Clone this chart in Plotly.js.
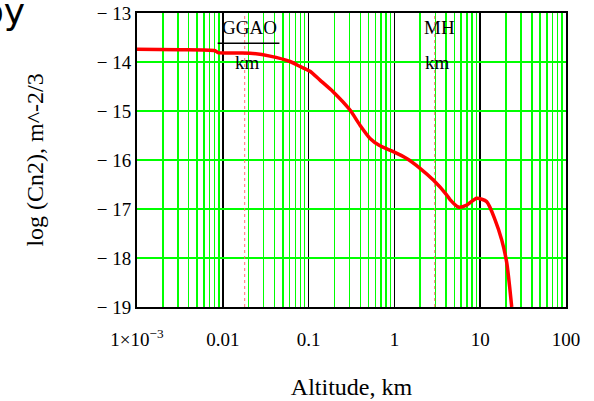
<!DOCTYPE html>
<html>
<head>
<meta charset="utf-8">
<script src="https://cdn.plot.ly/plotly-3.0.1.min.js"></script>
<style>
  html, body { margin: 0; padding: 0; background: #fff; }
  #chart { width: 594px; height: 401px; }
</style>
</head>
<body>
<div id="chart"></div>
<script>
// Refractive-index structure parameter profile versus altitude
const altitudeKm = [0.001, 0.00317, 0.00811, 0.00879, 0.0207, 0.0355, 0.0607, 0.0794,
  0.1038, 0.1358, 0.194, 0.304, 0.397, 0.520, 0.679, 0.970, 1.39, 1.99, 2.84,
  4.06, 4.45, 5.56, 6.97, 9.10, 11.9, 14.9, 17.8, 20.4, 22.2, 23.3];
const logCn2 = [-13.74, -13.75, -13.77, -13.81, -13.82, -13.88, -13.99, -14.09,
  -14.19, -14.37, -14.61, -14.98, -15.29, -15.56, -15.71, -15.83, -15.97, -16.17, -16.41,
  -16.71, -16.81, -16.96, -16.92, -16.78, -16.85, -17.22, -17.63, -18.10, -18.64, -19.0];

// Site altitudes (km)
const siteNames = ["GGAO", "MH"];
const siteAltKm = [0.018, 2.95];

// Axis ticks
const xTickVals = [0.001, 0.01, 0.1, 1, 10, 100];
const xTickText = ["1×10<sup>−3</sup>", "0.01", "0.1", "1", "10", "100"];
const yTickVals = [-19, -18, -17, -16, -15, -14, -13];
const yTickText = ["− 19", "− 18", "− 17", "− 16", "− 15", "− 14", "− 13"];
const yRange = [-19, -13];

const serif = "Liberation Serif, Times New Roman, serif";

const traces = [];
siteAltKm.forEach((a, i) => {
  traces.push({
    x: [a, a], y: yRange, mode: "lines", type: "scatter",
    line: { color: "#ff7070", width: 1, dash: "dot" },
    hoverinfo: "skip", showlegend: false, name: siteNames[i]
  });
});
traces.push({
  x: altitudeKm, y: logCn2, mode: "lines", type: "scatter",
  line: { color: "#ff0000", width: 3.5, shape: "spline", smoothing: 0.6 },
  showlegend: false
});

const annotations = [];
siteAltKm.forEach((a, i) => {
  annotations.push({
    x: Math.log10(a), y: -13.3, xref: "x", yref: "y", text: siteNames[i],
    showarrow: false, xshift: 5, font: { family: serif, size: 19, color: "#000" }
  });
  annotations.push({
    x: Math.log10(a), y: -14.0, xref: "x", yref: "y", text: "km",
    showarrow: false, xshift: 3, font: { family: serif, size: 19, color: "#000" }
  });
});
annotations.push({
  x: -0.256, y: 1.08, xref: "paper", yref: "paper", text: "py",
  xanchor: "right", yanchor: "top", showarrow: false,
  font: { family: "DejaVu Sans, sans-serif", size: 36, color: "#000" }
});

const layout = {
  width: 594, height: 401,
  margin: { l: 137, r: 28, t: 13, b: 94 },
  paper_bgcolor: "#fff", plot_bgcolor: "#fff",
  showlegend: false,
  xaxis: {
    type: "log", range: [-3, 2],
    tickmode: "array", tickvals: xTickVals, ticktext: xTickText,
    ticks: "outside", ticklen: 14, tickcolor: "rgba(0,0,0,0)",
    tickfont: { family: serif, size: 19, color: "#000" },
    showgrid: true, gridcolor: "#000", gridwidth: 1.5,
    minor: { dtick: "D1", showgrid: true, gridcolor: "#00ff00", gridwidth: 1.5, ticks: "" },
    showline: true, mirror: true, linecolor: "#000", linewidth: 2,
    zeroline: false,
    title: { text: "Altitude, km", standoff: 29, font: { family: serif, size: 24, color: "#000" } }
  },
  yaxis: {
    range: yRange,
    tickmode: "array", tickvals: yTickVals, ticktext: yTickText,
    ticks: "", tickfont: { family: serif, size: 19, color: "#000" },
    showgrid: true, gridcolor: "#00ff00", gridwidth: 2,
    showline: true, mirror: true, linecolor: "#000", linewidth: 2,
    zeroline: false,
    title: { text: "log (Cn2), m^-2/3", standoff: 46, font: { family: serif, size: 24, color: "#000" } }
  },
  shapes: [{
    type: "line", xref: "paper", yref: "paper",
    x0: 0.188, x1: 0.332, y0: 0.897, y1: 0.897,
    line: { color: "#000", width: 1.5 }
  }],
  annotations: annotations
};

Plotly.newPlot("chart", traces, layout, { displayModeBar: false, staticPlot: true });
</script>
</body>
</html>
